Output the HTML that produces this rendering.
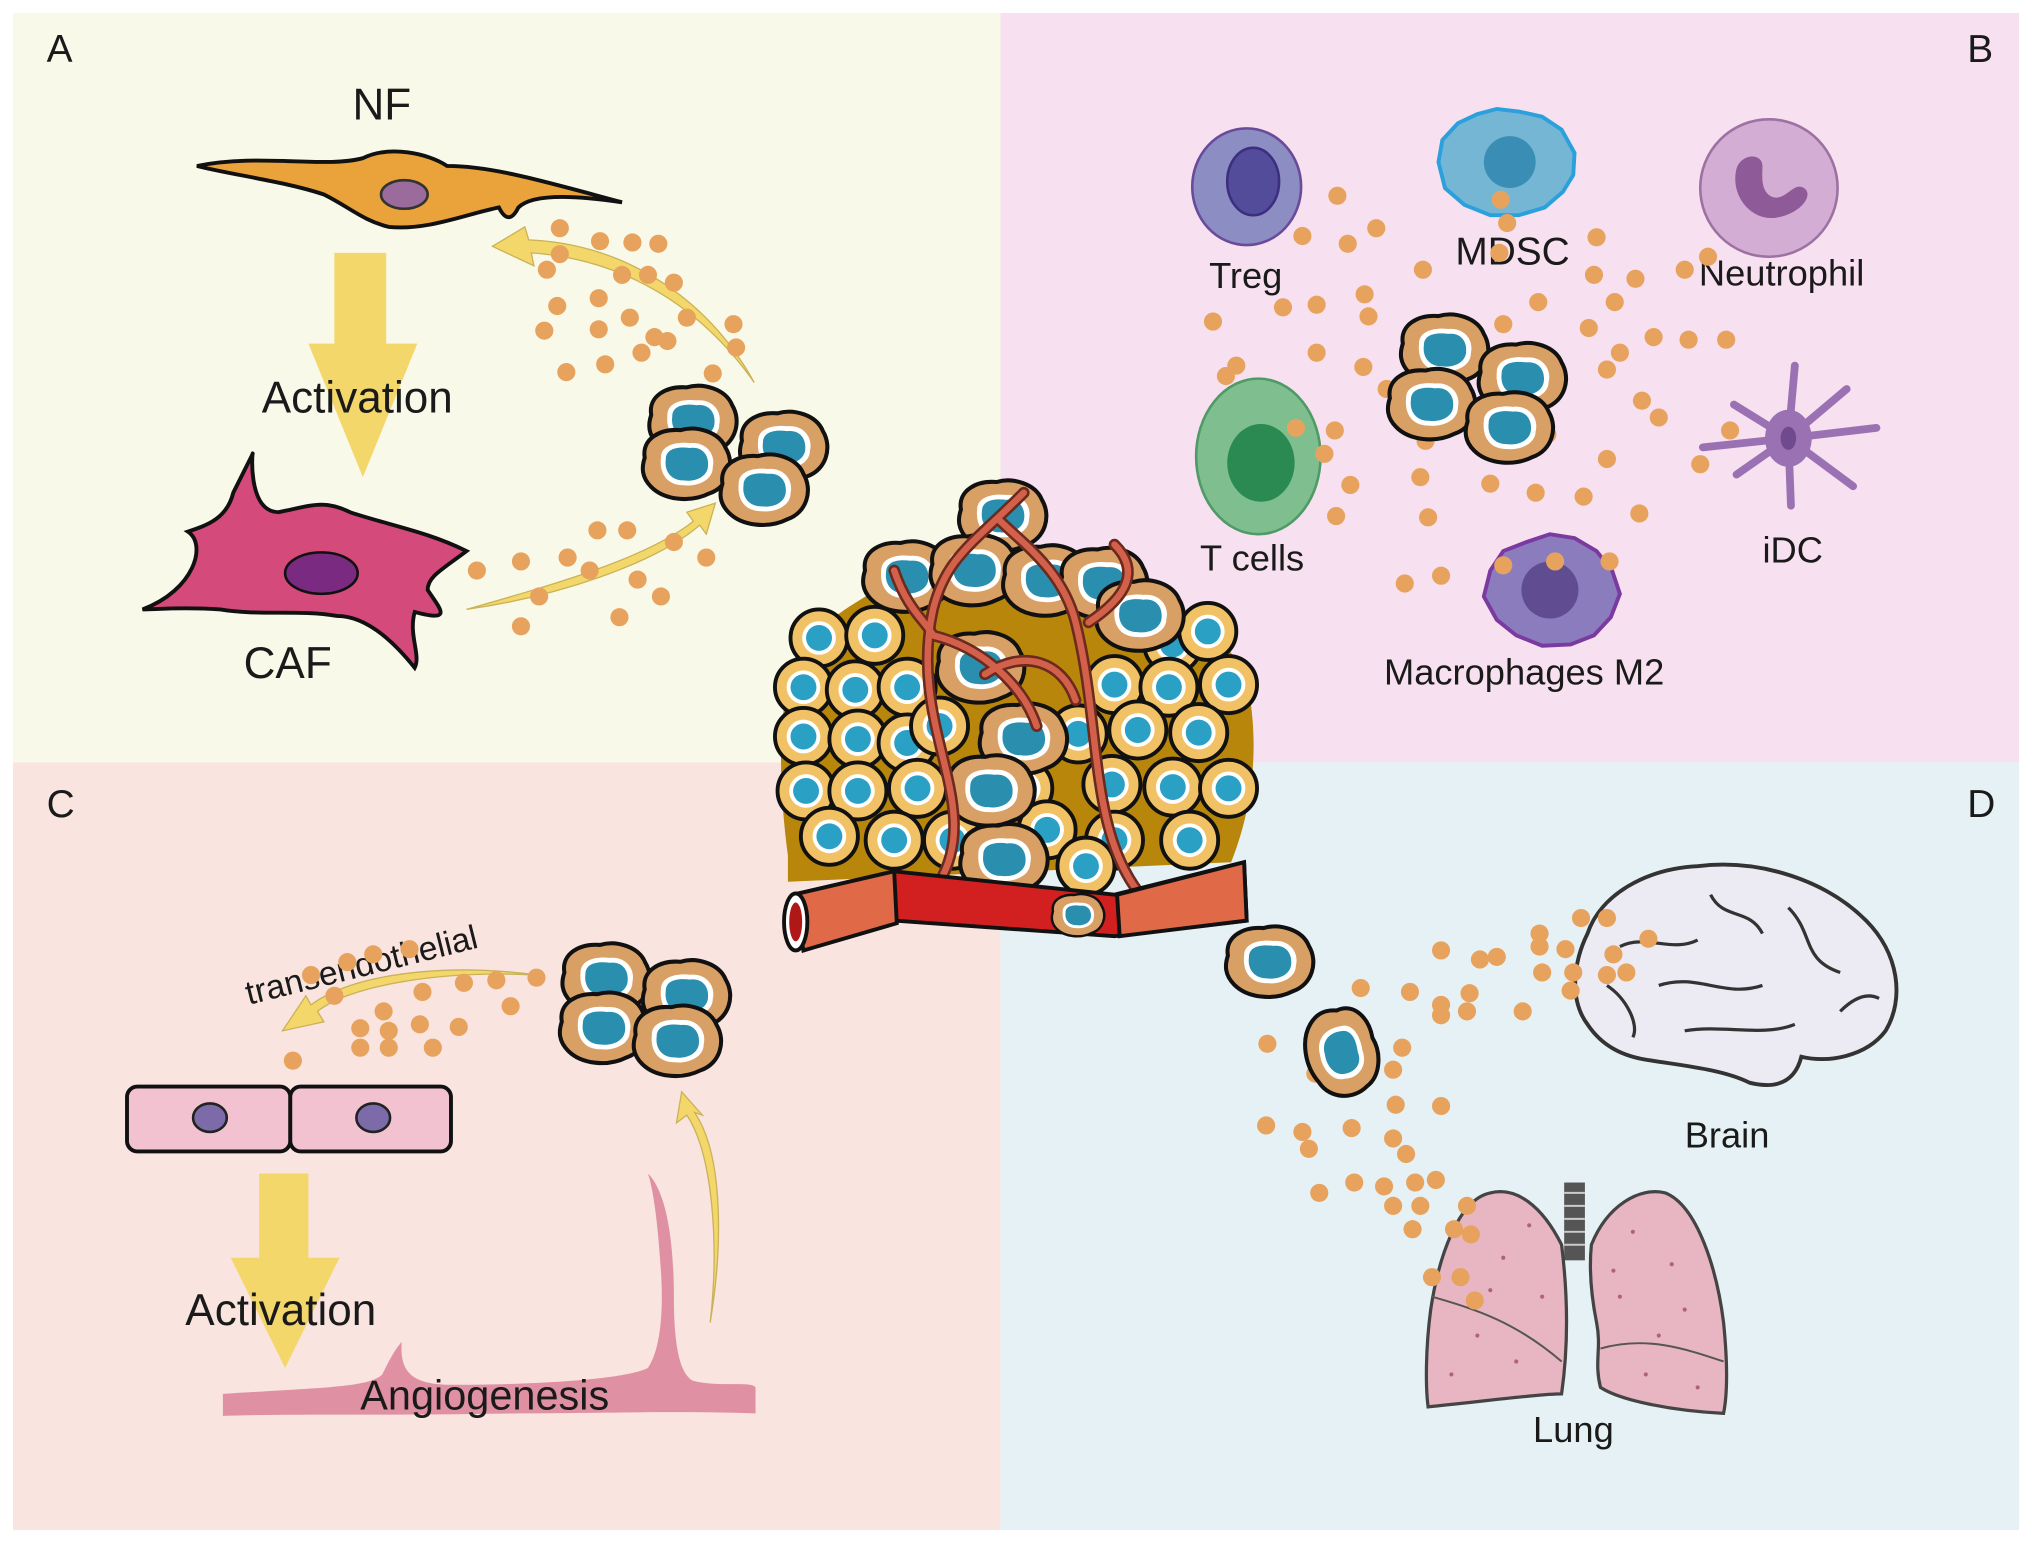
<!DOCTYPE html>
<html><head><meta charset="utf-8"><style>
html,body{margin:0;padding:0;background:#fff;}
svg{display:block;}
text{font-family:"Liberation Sans",Arial,sans-serif;fill:#1a1a1a;}
</style></head><body>
<svg width="2032" height="1543" viewBox="0 0 1568 1190" preserveAspectRatio="none" xmlns="http://www.w3.org/2000/svg">
<defs>
<g id="tc"><g transform="scale(1.25)">
<path d="M-26,-4 C-28,-16 -16,-22 -4,-21 C6,-24 20,-20 24,-10 C30,0 26,14 14,18 C2,24 -14,22 -22,14 C-28,8 -28,2 -26,-4Z" fill="#d9a066" stroke="#111" stroke-width="2.5"/>
<path d="M-16,-4 C-16,-12 -6,-14 2,-13 C12,-14 18,-6 16,2 C16,10 6,14 -2,13 C-12,13 -17,6 -16,-4Z" fill="#fff"/>
<path d="M-13,-3 C-13,-10 -5,-11 2,-10 C10,-11 14,-5 13,2 C12,8 5,11 -2,10 C-10,10 -14,4 -13,-3Z" fill="#2a8fae"/>
</g></g>
<g id="yc">
<circle r="22" fill="#f1c265" stroke="#111" stroke-width="3"/>
<circle r="13" fill="#fff"/>
<circle r="10" fill="#2aa0c4"/>
</g>
<g id="dt"><circle r="7" fill="#e7a35e"/></g>
<g id="sp"><circle r="1.6" fill="#b06080"/></g>
</defs>

<rect x="0" y="0" width="1568" height="1190" fill="#fff"/>
<rect x="10" y="10" width="762" height="578" fill="#f9f9e9"/>
<rect x="772" y="10" width="786" height="578" fill="#f7e0ef"/>
<rect x="10" y="588" width="762" height="592" fill="#f9e4df"/>
<rect x="772" y="588" width="786" height="592" fill="#e5f1f4"/>

<text x="36" y="48" font-size="30">A</text>
<text x="1518" y="48" font-size="30">B</text>
<text x="36" y="630" font-size="30">C</text>
<text x="1518" y="630" font-size="30">D</text>

<!-- ===== A ===== -->
<text x="272" y="92" font-size="34">NF</text>
<path d="M152,128 C200,118 250,130 280,122 C300,112 330,118 345,128 C380,128 420,140 480,156 C440,150 410,150 400,160 C395,170 390,170 385,160 C360,165 330,178 300,175 C280,170 270,160 250,150 C220,140 180,135 152,128Z" fill="#eaa23a" stroke="#111" stroke-width="3"/>
<ellipse cx="312" cy="150" rx="18" ry="11" fill="#9a6b9b" stroke="#333" stroke-width="2"/>
<polygon points="258,195 298,195 298,265 322,265 280,368 238,265 258,265" fill="#f4d76a"/>
<text x="202" y="318" font-size="34">Activation</text>
<path d="M110,470 C150,455 160,420 145,410 C160,405 175,400 180,380 C185,370 190,360 195,350 C195,345 190,395 215,395 C240,390 250,385 270,395 C300,405 330,410 360,425 C340,440 330,445 330,455 C340,470 350,480 320,472 C315,490 325,505 320,515 C300,490 280,475 260,475 C230,470 200,475 170,470 C140,468 120,470 110,470Z" fill="#d44a7b" stroke="#111" stroke-width="3"/>
<ellipse cx="248" cy="442" rx="28" ry="16" fill="#7a2a80" stroke="#111" stroke-width="2"/>
<text x="188" y="523" font-size="34">CAF</text>
<path d="M582,295 C540,235 480,200 410,195 L412,205 L380,190 L405,175 L408,185 C480,188 545,228 582,295Z" fill="#f4d76a" stroke="#c9b257" stroke-width="1"/>
<path d="M360,470 C430,450 500,430 535,402 L530,395 L552,388 L545,412 L540,405 C505,435 430,460 360,470Z" fill="#f4d76a" stroke="#c9b257" stroke-width="1"/>
<g>
<use href="#dt" x="432" y="176"/><use href="#dt" x="463" y="186"/><use href="#dt" x="488" y="187"/><use href="#dt" x="508" y="188"/>
<use href="#dt" x="432" y="196"/><use href="#dt" x="422" y="208"/><use href="#dt" x="480" y="212"/><use href="#dt" x="500" y="212"/><use href="#dt" x="520" y="218"/>
<use href="#dt" x="430" y="236"/><use href="#dt" x="462" y="230"/><use href="#dt" x="486" y="245"/><use href="#dt" x="530" y="245"/><use href="#dt" x="566" y="250"/>
<use href="#dt" x="420" y="255"/><use href="#dt" x="462" y="254"/><use href="#dt" x="505" y="260"/><use href="#dt" x="495" y="272"/><use href="#dt" x="568" y="268"/>
<use href="#dt" x="437" y="287"/><use href="#dt" x="467" y="281"/><use href="#dt" x="550" y="288"/><use href="#dt" x="515" y="263"/>
<use href="#dt" x="461" y="409"/><use href="#dt" x="484" y="409"/><use href="#dt" x="368" y="440"/><use href="#dt" x="402" y="433"/><use href="#dt" x="438" y="430"/>
<use href="#dt" x="455" y="440"/><use href="#dt" x="520" y="418"/><use href="#dt" x="545" y="430"/><use href="#dt" x="492" y="447"/><use href="#dt" x="416" y="460"/>
<use href="#dt" x="510" y="460"/><use href="#dt" x="478" y="476"/><use href="#dt" x="402" y="483"/>
</g>
<use href="#tc" x="535" y="325"/><use href="#tc" x="605" y="345"/><use href="#tc" x="530" y="358"/><use href="#tc" x="590" y="378"/>

<!-- ===== B ===== -->
<ellipse cx="962" cy="144" rx="42" ry="45" fill="#8b8dc3" stroke="#6a4b9a" stroke-width="2"/>
<ellipse cx="967" cy="140" rx="20" ry="26" fill="#524c9b" stroke="#3d2f80" stroke-width="2"/>
<text x="933" y="222" font-size="28">Treg</text>
<path d="M1113,108 L1125,95 L1140,88 L1155,84 L1172,86 L1190,90 L1205,100 L1215,118 L1214,135 L1206,148 L1192,160 L1172,166 L1150,166 L1130,158 L1115,145 L1110,125Z" fill="#74b6d4" stroke="#2aa0dc" stroke-width="3"/>
<circle cx="1165" cy="125" r="20" fill="#3a8eb5"/>
<text x="1123" y="204" font-size="30">MDSC</text>
<circle cx="1365" cy="145" r="53" fill="#d3add3" stroke="#9c72a2" stroke-width="2"/>
<path d="M1340,130 C1335,150 1350,170 1370,168 C1390,165 1400,150 1392,145 C1384,140 1378,155 1368,152 C1358,148 1360,135 1360,128 C1360,118 1344,118 1340,130Z" fill="#8e5a98"/>
<text x="1311" y="220" font-size="28">Neutrophil</text>
<ellipse cx="971" cy="352" rx="48" ry="60" fill="#7fbf8f" stroke="#4f9a66" stroke-width="2"/>
<ellipse cx="973" cy="357" rx="26" ry="30" fill="#2a8a52"/>
<text x="926" y="440" font-size="28">T cells</text>
<g stroke="#9a72b4" stroke-width="6" stroke-linecap="round" fill="none">
<path d="M1380,338 L1385,282"/><path d="M1380,338 L1425,300"/><path d="M1380,338 L1448,330"/><path d="M1380,338 L1430,375"/><path d="M1380,338 L1382,390"/><path d="M1380,338 L1340,366"/><path d="M1380,338 L1314,345"/><path d="M1380,338 L1338,312"/>
</g>
<ellipse cx="1380" cy="338" rx="18" ry="22" fill="#9a72b4"/>
<ellipse cx="1380" cy="338" rx="6" ry="9" fill="#6f4a8f"/>
<text x="1360" y="434" font-size="28">iDC</text>
<path d="M1150,440 L1160,425 L1178,418 L1196,412 L1215,415 L1232,425 L1244,440 L1250,458 L1243,476 L1230,490 L1212,497 L1190,498 L1170,490 L1155,478 L1145,460Z" fill="#8a7cbd" stroke="#7a3aa0" stroke-width="3"/>
<circle cx="1196" cy="455" r="22" fill="#5f4c91"/>
<text x="1068" y="528" font-size="28">Macrophages M2</text>
<g>
<use href="#dt" x="1032" y="151"/><use href="#dt" x="1158" y="154"/><use href="#dt" x="1163" y="172"/><use href="#dt" x="1062" y="176"/>
<use href="#dt" x="1005" y="182"/><use href="#dt" x="1040" y="188"/><use href="#dt" x="1098" y="208"/><use href="#dt" x="1157" y="195"/><use href="#dt" x="1232" y="183"/>
<use href="#dt" x="1230" y="212"/><use href="#dt" x="1262" y="215"/><use href="#dt" x="1300" y="208"/><use href="#dt" x="1318" y="198"/>
<use href="#dt" x="1053" y="227"/><use href="#dt" x="990" y="237"/><use href="#dt" x="1016" y="235"/><use href="#dt" x="1187" y="233"/><use href="#dt" x="1246" y="233"/>
<use href="#dt" x="936" y="248"/><use href="#dt" x="1056" y="244"/><use href="#dt" x="1160" y="250"/><use href="#dt" x="1226" y="253"/><use href="#dt" x="1276" y="260"/><use href="#dt" x="1303" y="262"/><use href="#dt" x="1332" y="262"/>
<use href="#dt" x="1016" y="272"/><use href="#dt" x="1250" y="272"/><use href="#dt" x="946" y="290"/><use href="#dt" x="954" y="282"/><use href="#dt" x="1052" y="283"/>
<use href="#dt" x="1070" y="300"/><use href="#dt" x="1240" y="285"/><use href="#dt" x="1267" y="309"/><use href="#dt" x="1280" y="322"/>
<use href="#dt" x="1000" y="330"/><use href="#dt" x="1030" y="332"/><use href="#dt" x="1335" y="332"/><use href="#dt" x="1022" y="350"/><use href="#dt" x="1100" y="340"/>
<use href="#dt" x="1194" y="335"/><use href="#dt" x="1240" y="354"/><use href="#dt" x="1312" y="358"/><use href="#dt" x="1042" y="374"/><use href="#dt" x="1096" y="368"/>
<use href="#dt" x="1150" y="373"/><use href="#dt" x="1185" y="380"/><use href="#dt" x="1222" y="383"/><use href="#dt" x="1031" y="398"/><use href="#dt" x="1102" y="399"/><use href="#dt" x="1265" y="396"/>
<use href="#dt" x="1084" y="450"/><use href="#dt" x="1112" y="444"/><use href="#dt" x="1160" y="436"/><use href="#dt" x="1200" y="433"/><use href="#dt" x="1242" y="433"/>
</g>
<use href="#tc" x="1115" y="270"/><use href="#tc" x="1175" y="292"/><use href="#tc" x="1105" y="312"/><use href="#tc" x="1165" y="330"/>

<!-- ===== C ===== -->
<text x="192" y="775" font-size="26" transform="rotate(-14 192 775)">transendothelial</text>
<path d="M415,752 C340,748 270,760 245,780 L250,788 L218,795 L236,768 L240,775 C270,752 340,742 415,752Z" fill="#f4d76a" stroke="#c9b257" stroke-width="1"/>
<g>
<use href="#dt" x="240" y="752"/><use href="#dt" x="268" y="742"/><use href="#dt" x="288" y="736"/><use href="#dt" x="316" y="732"/><use href="#dt" x="358" y="758"/><use href="#dt" x="383" y="756"/><use href="#dt" x="414" y="754"/>
<use href="#dt" x="258" y="768"/><use href="#dt" x="296" y="780"/><use href="#dt" x="326" y="765"/><use href="#dt" x="394" y="776"/>
<use href="#dt" x="278" y="793"/><use href="#dt" x="300" y="795"/><use href="#dt" x="324" y="790"/><use href="#dt" x="354" y="792"/><use href="#dt" x="278" y="808"/><use href="#dt" x="300" y="808"/><use href="#dt" x="334" y="808"/><use href="#dt" x="226" y="818"/>
</g>
<use href="#tc" x="468" y="755"/><use href="#tc" x="530" y="768"/><use href="#tc" x="466" y="793"/><use href="#tc" x="523" y="803"/>
<rect x="98" y="838" width="126" height="50" rx="8" fill="#f2c2d0" stroke="#111" stroke-width="3"/>
<rect x="224" y="838" width="124" height="50" rx="8" fill="#f2c2d0" stroke="#111" stroke-width="3"/>
<ellipse cx="162" cy="862" rx="13" ry="11" fill="#7c6ba8" stroke="#222" stroke-width="2"/>
<ellipse cx="288" cy="862" rx="13" ry="11" fill="#7c6ba8" stroke="#222" stroke-width="2"/>
<polygon points="200,905 238,905 238,970 262,970 220,1055 178,970 200,970" fill="#f4d76a"/>
<path d="M172,1075 C250,1070 285,1070 295,1060 C300,1050 305,1040 310,1035 C308,1060 320,1068 350,1068 C400,1068 480,1065 500,1055 C510,1040 512,1010 510,980 C508,950 505,920 500,905 C515,920 520,960 520,1000 C520,1040 525,1060 535,1065 C555,1070 580,1065 583,1070 L583,1090 C520,1088 450,1090 400,1090 C300,1092 230,1090 172,1092Z" fill="#df90a3"/>
<text x="143" y="1022" font-size="34">Activation</text>
<text x="278" y="1087" font-size="32">Angiogenesis</text>
<path d="M548,1020 C555,960 550,890 530,860 L522,866 L526,842 L542,860 L536,858 C558,890 558,960 548,1020Z" fill="#f4d76a" stroke="#c9b257" stroke-width="1"/>

<!-- ===== D ===== -->
<path d="M1225,790 C1210,770 1215,740 1225,720 C1235,690 1270,670 1310,668 C1360,662 1410,680 1440,710 C1465,735 1470,770 1455,795 C1440,815 1410,820 1390,815 C1385,835 1370,840 1350,835 C1330,825 1300,822 1275,818 C1250,815 1235,805 1225,790Z" fill="#ecebf3" stroke="#333" stroke-width="3"/>
<g stroke="#333" stroke-width="2.5" fill="none">
<path d="M1250,730 C1270,720 1290,735 1310,725"/><path d="M1320,690 C1330,710 1350,700 1360,720"/><path d="M1280,760 C1310,750 1330,770 1360,760"/><path d="M1380,700 C1400,720 1390,740 1420,750"/><path d="M1300,795 C1330,790 1360,800 1385,790"/><path d="M1420,780 C1430,770 1440,765 1450,770"/><path d="M1240,760 C1255,770 1265,790 1260,800"/>
</g>
<text x="1300" y="885" font-size="28">Brain</text>
<rect x="1207" y="912" width="16" height="60" fill="#555"/>
<g stroke="#ccc" stroke-width="1.5"><line x1="1207" y1="920" x2="1223" y2="920"/><line x1="1207" y1="930" x2="1223" y2="930"/><line x1="1207" y1="940" x2="1223" y2="940"/><line x1="1207" y1="950" x2="1223" y2="950"/><line x1="1207" y1="960" x2="1223" y2="960"/></g>
<path d="M1205,960 C1190,930 1170,915 1150,920 C1125,925 1110,970 1104,1010 C1100,1040 1100,1070 1102,1085 C1150,1080 1190,1075 1205,1075 C1210,1040 1210,1000 1205,960Z" fill="#e8b5c3" stroke="#444" stroke-width="2.5"/>
<path d="M1228,960 C1240,930 1265,915 1285,920 C1310,930 1325,980 1330,1020 C1333,1050 1333,1075 1330,1090 C1290,1088 1250,1080 1235,1070 C1230,1050 1236,1040 1232,1020 C1228,1000 1226,980 1228,960Z" fill="#e8b5c3" stroke="#444" stroke-width="2.5"/>
<g stroke="#555" stroke-width="1.5" fill="none"><path d="M1105,1000 C1140,1010 1170,1020 1205,1050"/><path d="M1235,1040 C1270,1030 1300,1040 1330,1050"/></g>
<g>
<use href="#sp" x="1130" y="950"/><use href="#sp" x="1160" y="970"/><use href="#sp" x="1180" y="945"/><use href="#sp" x="1140" y="1030"/><use href="#sp" x="1170" y="1050"/><use href="#sp" x="1120" y="1060"/><use href="#sp" x="1190" y="1000"/><use href="#sp" x="1150" y="995"/>
<use href="#sp" x="1260" y="950"/><use href="#sp" x="1290" y="975"/><use href="#sp" x="1250" y="1000"/><use href="#sp" x="1300" y="1010"/><use href="#sp" x="1270" y="1060"/><use href="#sp" x="1310" y="1070"/><use href="#sp" x="1245" y="980"/><use href="#sp" x="1280" y="1030"/>
</g>
<text x="1183" y="1112" font-size="28">Lung</text>
<g>
<use href="#dt" x="1188" y="720"/><use href="#dt" x="1220" y="708"/><use href="#dt" x="1240" y="708"/><use href="#dt" x="1112" y="733"/><use href="#dt" x="1142" y="740"/><use href="#dt" x="1155" y="738"/>
<use href="#dt" x="1188" y="730"/><use href="#dt" x="1208" y="732"/><use href="#dt" x="1245" y="736"/><use href="#dt" x="1272" y="724"/><use href="#dt" x="1190" y="750"/><use href="#dt" x="1214" y="750"/><use href="#dt" x="1240" y="752"/><use href="#dt" x="1255" y="750"/>
<use href="#dt" x="1050" y="762"/><use href="#dt" x="1088" y="765"/><use href="#dt" x="1112" y="775"/><use href="#dt" x="1134" y="766"/><use href="#dt" x="1212" y="764"/><use href="#dt" x="1175" y="780"/><use href="#dt" x="1132" y="780"/><use href="#dt" x="1112" y="783"/>
<use href="#dt" x="978" y="805"/><use href="#dt" x="1082" y="808"/><use href="#dt" x="1075" y="825"/><use href="#dt" x="1015" y="828"/><use href="#dt" x="1077" y="852"/><use href="#dt" x="1112" y="853"/>
<use href="#dt" x="977" y="868"/><use href="#dt" x="1005" y="873"/><use href="#dt" x="1043" y="870"/><use href="#dt" x="1075" y="878"/><use href="#dt" x="1010" y="886"/><use href="#dt" x="1085" y="890"/>
<use href="#dt" x="1045" y="912"/><use href="#dt" x="1068" y="915"/><use href="#dt" x="1092" y="912"/><use href="#dt" x="1108" y="910"/><use href="#dt" x="1018" y="920"/><use href="#dt" x="1132" y="930"/><use href="#dt" x="1075" y="930"/><use href="#dt" x="1096" y="930"/>
<use href="#dt" x="1090" y="948"/><use href="#dt" x="1122" y="948"/><use href="#dt" x="1135" y="952"/><use href="#dt" x="1105" y="985"/><use href="#dt" x="1127" y="985"/><use href="#dt" x="1138" y="1003"/>
</g>
<use href="#tc" x="980" y="742"/>
<g transform="translate(1035 812) rotate(75)"><use href="#tc"/></g>

<!-- ===== Center tumor ===== -->
<path d="M608,660 C600,600 600,540 615,505 C640,470 680,455 720,430 C760,420 820,430 860,445 C910,470 950,490 962,525 C972,570 968,620 950,665 L608,680Z" fill="#b8860b"/>
<g>
<use href="#yc" x="632" y="492"/><use href="#yc" x="675" y="490"/><use href="#yc" x="905" y="497"/><use href="#yc" x="932" y="487"/>
<use href="#yc" x="620" y="530"/><use href="#yc" x="660" y="532"/><use href="#yc" x="700" y="530"/><use href="#yc" x="860" y="528"/><use href="#yc" x="902" y="530"/><use href="#yc" x="948" y="528"/>
<use href="#yc" x="620" y="568"/><use href="#yc" x="662" y="570"/><use href="#yc" x="700" y="573"/><use href="#yc" x="832" y="566"/><use href="#yc" x="878" y="563"/><use href="#yc" x="925" y="565"/>
<use href="#yc" x="622" y="610"/><use href="#yc" x="662" y="610"/><use href="#yc" x="708" y="608"/><use href="#yc" x="790" y="608"/><use href="#yc" x="858" y="605"/><use href="#yc" x="905" y="607"/><use href="#yc" x="948" y="608"/>
<use href="#yc" x="640" y="645"/><use href="#yc" x="690" y="648"/><use href="#yc" x="735" y="648"/><use href="#yc" x="808" y="640"/><use href="#yc" x="860" y="648"/><use href="#yc" x="918" y="648"/>
<use href="#yc" x="838" y="668"/><use href="#yc" x="725" y="560"/>
</g>
<use href="#tc" x="774" y="398"/><use href="#tc" x="700" y="445"/><use href="#tc" x="752" y="440"/><use href="#tc" x="808" y="448"/><use href="#tc" x="852" y="450"/><use href="#tc" x="880" y="475"/>
<use href="#tc" x="757" y="515"/><use href="#tc" x="790" y="570"/><use href="#tc" x="765" y="610"/><use href="#tc" x="775" y="663"/>
<g stroke="#6b2a1e" stroke-width="9" fill="none" stroke-linecap="round">
<path d="M725,680 C760,620 700,560 720,470 C730,430 750,420 790,380"/>
<path d="M880,690 C840,640 850,560 830,480 C820,440 790,420 770,400"/>
<path d="M720,490 C760,500 790,530 800,560"/><path d="M840,480 C870,460 880,440 860,420"/><path d="M760,520 C790,500 820,510 830,540"/><path d="M690,440 C700,470 715,480 720,490"/>
</g>
<g stroke="#d2604a" stroke-width="5" fill="none" stroke-linecap="round">
<path d="M725,680 C760,620 700,560 720,470 C730,430 750,420 790,380"/>
<path d="M880,690 C840,640 850,560 830,480 C820,440 790,420 770,400"/>
<path d="M720,490 C760,500 790,530 800,560"/><path d="M840,480 C870,460 880,440 860,420"/><path d="M760,520 C790,500 820,510 830,540"/><path d="M690,440 C700,470 715,480 720,490"/>
</g>
<path d="M612,690 L690,672 L860,690 L960,665 L962,710 L860,722 L690,710 L620,733Z" fill="#d22020" stroke="#111" stroke-width="3"/>
<path d="M612,690 L690,672 L692,712 L620,733Z" fill="#e06a48" stroke="#111" stroke-width="3"/>
<path d="M862,690 L960,665 L962,710 L864,722Z" fill="#e06a48" stroke="#111" stroke-width="3"/>
<ellipse cx="614" cy="711" rx="9" ry="22" fill="#fff" stroke="#111" stroke-width="3"/>
<ellipse cx="614" cy="711" rx="5" ry="15" fill="#b01818"/>
<g transform="translate(832 706) scale(0.6)"><use href="#tc"/></g>
</svg>
</body></html>
